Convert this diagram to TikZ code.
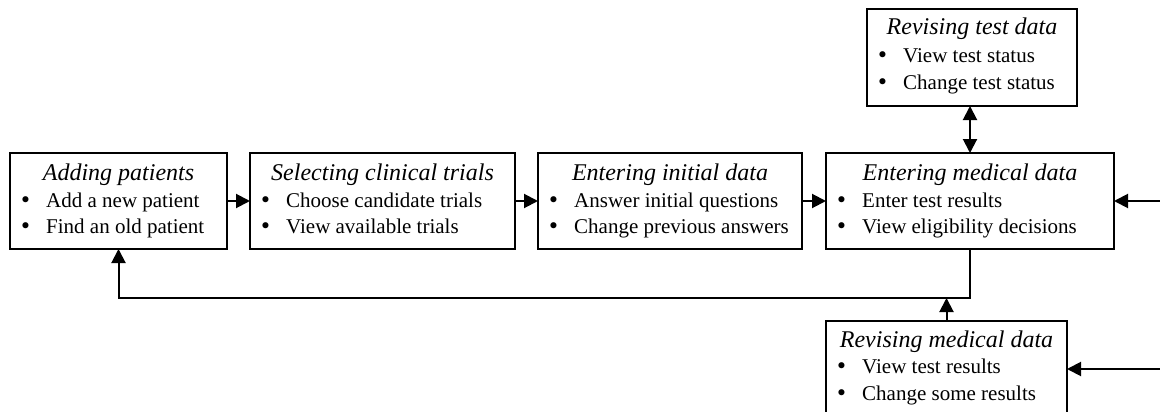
\documentclass[tikz,border=0pt]{standalone}
\usepackage{fontspec}
\setmainfont{Liberation Serif}
\newfontfamily\bulfont{DejaVu Sans}
\usetikzlibrary{arrows.meta}
\begin{document}
\begin{tikzpicture}[x=1pt,y=-1pt,
 box/.style={draw, line width=2pt, inner sep=0pt, outer sep=0pt, anchor=north west},
 ttl/.style={font=\fontsize{24}{27}\selectfont\itshape, anchor=base, inner sep=0pt},
 itm/.style={font=\fontsize{21}{27}\selectfont, anchor=base west, inner sep=0pt},
 bul/.style={font=\fontsize{21}{27}\bulfont\selectfont, anchor=base, inner sep=0pt},
 conn/.style={line width=2pt, -{Triangle[length=14pt,width=14pt]}},
 dconn/.style={line width=2pt, {Triangle[length=14pt,width=14pt]}-{Triangle[length=14pt,width=14pt]}},
]
\useasboundingbox (0,0) rectangle (1160,412);

% Box 1
\node[box, minimum width=217pt, minimum height=96pt] (b1) at (10,153) {};
\node[ttl] (b1t) at (118.5,180) {Adding patients};
\node[bul] (b1b1) at (25.5,207) {•};
\node[itm] (b1i1) at (46,207) {Add a new patient};
\node[bul] (b1b2) at (25.5,233) {•};
\node[itm] (b1i2) at (46,233) {Find an old patient};

% Box 2
\node[box, minimum width=265pt, minimum height=96pt] (b2) at (250,153) {};
\node[ttl] (b2t) at (382.5,180) {Selecting clinical trials};
\node[bul] (b2b1) at (265.5,207) {•};
\node[itm] (b2i1) at (286,207) {Choose candidate trials};
\node[bul] (b2b2) at (265.5,233) {•};
\node[itm] (b2i2) at (286,233) {View available trials};

% Box 3
\node[box, minimum width=264pt, minimum height=96pt] (b3) at (538,153) {};
\node[ttl] (b3t) at (670,180) {Entering initial data};
\node[bul] (b3b1) at (553.5,207) {•};
\node[itm] (b3i1) at (574,207) {Answer initial questions};
\node[bul] (b3b2) at (553.5,233) {•};
\node[itm] (b3i2) at (574,233) {Change previous answers};

% Box 4
\node[box, minimum width=288pt, minimum height=96pt] (b4) at (826,153) {};
\node[ttl] (b4t) at (970,180) {Entering medical data};
\node[bul] (b4b1) at (841.5,207) {•};
\node[itm] (b4i1) at (862,207) {Enter test results};
\node[bul] (b4b2) at (841.5,233) {•};
\node[itm] (b4i2) at (862,233) {View eligibility decisions};

% Top box
\node[box, minimum width=210pt, minimum height=97pt] (top) at (867,9) {};
\node[ttl] (topt) at (972,35) {Revising test data};
\node[bul] (topb1) at (882.5,63) {•};
\node[itm] (topi1) at (903,63) {View test status};
\node[bul] (topb2) at (882.5,90) {•};
\node[itm] (topi2) at (903,90) {Change test status};

% Bottom box
\node[box, minimum width=241pt, minimum height=96pt] (bot) at (826,321) {};
\node[ttl] (bott) at (946.5,347) {Revising medical data};
\node[bul] (botb1) at (841.5,373) {•};
\node[itm] (boti1) at (862,373) {View test results};
\node[bul] (botb2) at (841.5,400) {•};
\node[itm] (boti2) at (862,400) {Change some results};

% Coordinates
\coordinate (r1) at (1160,201);
\coordinate (r2) at (1160,369);
\coordinate (fb) at (970,298);

% Connectors
\draw[conn] (b1.east) -- (b2.west);
\draw[conn] (b2.east) -- (b3.west);
\draw[conn] (b3.east) -- (b4.west);
\draw[conn] (r1) -- (b4.east);
\draw[conn] (r2) -- (bot.east);
\draw[dconn] (b4.north |- top.south) -- (b4.north);
\draw[conn] (b4.south) -- (fb) -| (b1.south);
\draw[conn] (bot.north) -- (bot.north |- fb);
\end{tikzpicture}
\end{document}
